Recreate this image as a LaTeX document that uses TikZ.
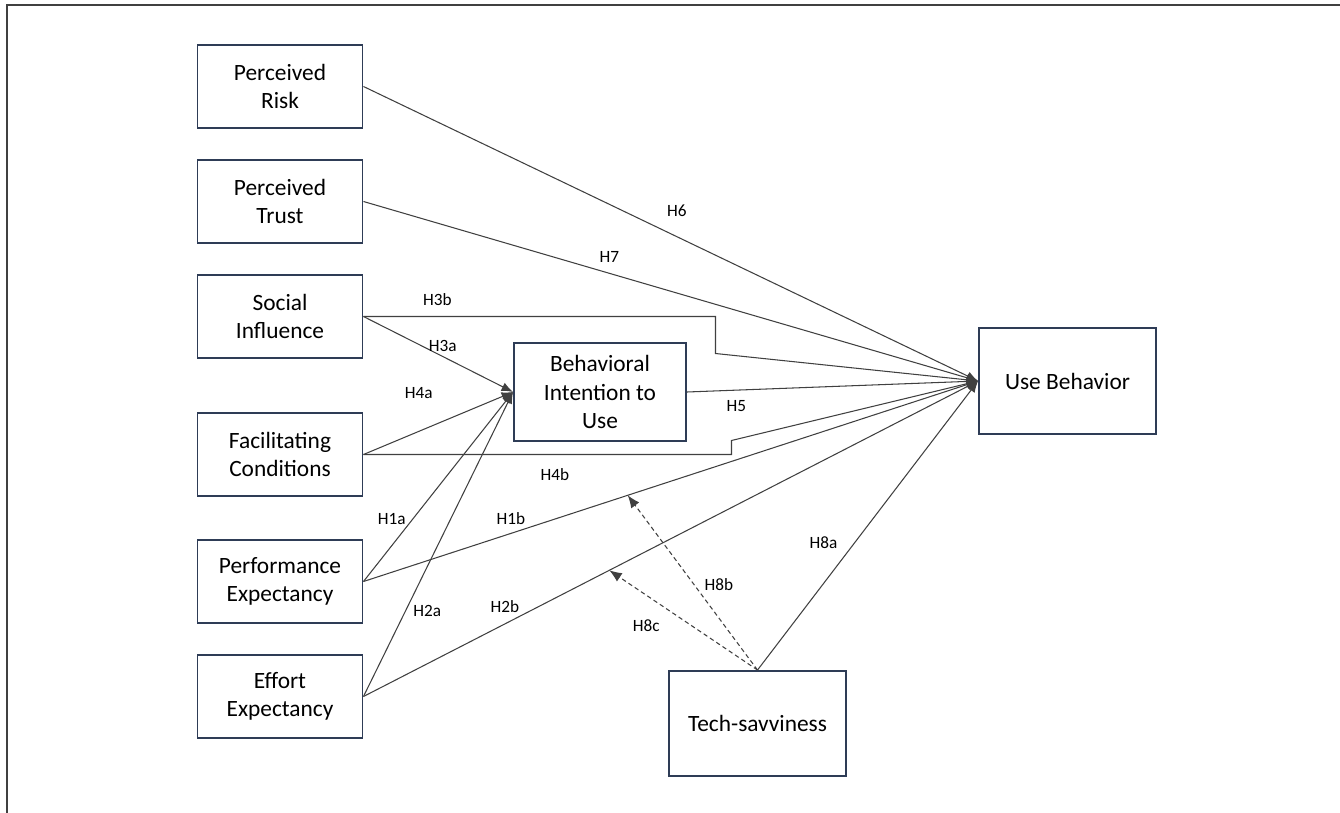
\documentclass[tikz,border=0pt]{standalone}
\usepackage{fontspec}
\setmainfont{Carlito}
\usepackage{tikz}
\usetikzlibrary{arrows.meta, positioning}
\definecolor{boxnavy}{RGB}{46, 60, 86}
\definecolor{linegray}{RGB}{64, 64, 64}

\begin{document}
\begin{tikzpicture}[node distance=2.3cm]
        \tikzstyle{box} = [rectangle, minimum width=3.3cm, minimum height=1.66cm, align=center, draw=boxnavy, line width=1.1pt, font=\fontsize{13.3}{16}\selectfont]
        \tikzstyle{arrow} = [draw=linegray, line width=0.6pt, -{Latex[length=2.3mm, width=1.8mm]}]
        \tikzstyle{moderator} = [draw=linegray, line width=0.6pt, dash pattern=on 2.5pt off 1.8pt, -{Latex[length=2.5mm, width=2mm]}]
        \tikzstyle{hyp} = [font=\fontsize{9.8}{11}\selectfont, anchor=center, inner sep=0pt]

        \useasboundingbox (0,0) rectangle (26.8,-16.26);
        \draw [linegray, line width=1.1pt] (26.8,-0.1) -| (0.14,-16.26);

        \node (risk) [box] at (5.6,-1.73) {Perceived\\Risk};
        \node (trust) [box, below of=risk] {Perceived\\Trust};
        \node (social) [box, below of=trust] {Social\\Influence};
        \node (fac) [box, below of=social, yshift=-0.46cm] {Facilitating\\Conditions};
        \node (perf) [box, below of=fac, yshift=-0.24cm] {Performance\\Expectancy};
        \node (effort) [box, below of=perf] {Effort\\Expectancy};
        \node (bi) [box, minimum width=3.44cm, minimum height=1.96cm, right of=social, xshift=4.1cm, yshift=-1.51cm] {Behavioral\\Intention to\\Use};
        \node (use) [box, minimum width=3.54cm, minimum height=2.12cm, right of=bi, xshift=7.05cm, yshift=0.22cm] {Use Behavior};
        \node (tech) [box, minimum width=3.54cm, minimum height=2.1cm, below of=bi, xshift=3.15cm, yshift=-4.33cm] {Tech-savviness};

        \draw [arrow] (risk.east) -- node[hyp, pos=0.51, yshift=5.2mm] {H6} (use.west);
        \draw [arrow] (trust.east) -- node[hyp, pos=0.40, yshift=3.2mm] {H7} (use.west);
        \draw [arrow] (social.east) -- node[hyp, pos=0.21, yshift=3.4mm] {H3b} ++(7.04,0) -- ++(0,-0.74) -- (use.west);
        \draw [arrow] (social.east) -- node[hyp, pos=0.53, yshift=2.2mm] {H3a} (bi.west);
        \draw [arrow] (fac.east) -- node[hyp, pos=0.37, yshift=7.6mm] {H4a} (bi.west);
        \draw [arrow] (fac.east) -- node[hyp, pos=0.52, yshift=-4mm] {H4b} ++(7.36,0) -- ++(0,0.28) -- (use.west);
        \draw [arrow] (bi.east) -- node[hyp, pos=0.17, yshift=-3.2mm] {H5} (use.west);
        \draw [arrow] (perf.east) -- node[hyp, pos=0.33, xshift=-4.2mm] {H1a} (bi.west);
        \draw [arrow] (perf.east) -- node[hyp, pos=0.24, yshift=3mm] {H1b} coordinate[pos=0.43] (m1b) (use.west);
        \draw [arrow] (effort.east) -- node[hyp, pos=0.28, xshift=4.4mm] {H2a} (bi.west);
        \draw [arrow] (effort.east) -- node[hyp, pos=0.23, yshift=3.4mm] {H2b} coordinate[pos=0.40] (m2b) (use.west);
        \draw [arrow] (tech.north) -- node[hyp, pos=0.44, xshift=-6.2mm] {H8a} (use.west);
        \draw [moderator] (tech.north) -- node[hyp, pos=0.49, xshift=5mm] {H8b} (m1b);
        \draw [moderator] (tech.north) -- node[hyp, pos=0.75, yshift=-6mm] {H8c} (m2b);
\end{tikzpicture}
\end{document}
